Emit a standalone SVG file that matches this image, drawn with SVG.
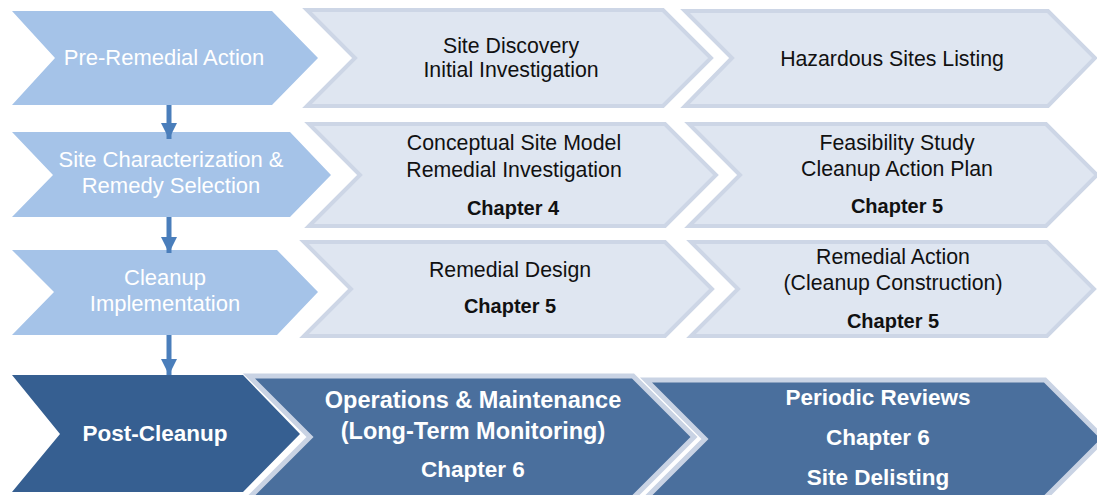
<svg xmlns="http://www.w3.org/2000/svg" width="1097" height="495" viewBox="0 0 1097 495">
<style>
.lb{fill:#a5c3e8}
.gb{fill:#dfe6f1;stroke:#cdd6e6;stroke-width:4;stroke-linejoin:miter}
.db{fill:#365f91}
.mb{fill:#4a6f9d;stroke:#c9d3e4;stroke-width:5;stroke-linejoin:miter}
text{font-family:"Liberation Sans",Arial,sans-serif;text-anchor:middle}
.w{fill:#ffffff;font-size:22px}
.k{fill:#111111;font-size:21.3px}
.kb{fill:#111111;font-size:20px;font-weight:bold}
.wb{fill:#ffffff;font-size:22.5px;font-weight:bold}
.wb2{fill:#ffffff;font-size:23.5px;font-weight:bold}
.conn{stroke:#4a7ebb;stroke-width:5;fill:none}
</style>
<defs>
<marker id="ah" markerUnits="userSpaceOnUse" markerWidth="16" markerHeight="16" refX="16" refY="8" orient="auto">
<path d="M0,0 L16,8 L0,16 Z" fill="#4a7ebb"/>
</marker>
</defs>

<g id="n-pre">
<polygon class="lb" points="12,11 272,11 318,58 272,105 12,105 55,58"/>
<text class="w" x="164" y="65">Pre-Remedial Action</text>
</g>
<g id="n-discovery">
<polygon class="gb" points="307,10 663,10 711,58 663,106 307,106 355,58"/>
<text class="k" x="511" y="53">Site Discovery</text>
<text class="k" x="511" y="77">Initial Investigation</text>
</g>
<g id="n-listing">
<polygon class="gb" points="685,11 1048,11 1095,58 1048,106 685,106 732,58"/>
<text class="k" x="892" y="66">Hazardous Sites Listing</text>
</g>

<g id="n-char">
<polygon class="lb" points="12,132 290,132 331,175 290,217 12,217 53,175"/>
<text class="w" x="171" y="167">Site Characterization &amp;</text>
<text class="w" x="171" y="193">Remedy Selection</text>
</g>
<g id="n-csm">
<polygon class="gb" points="309,124 665,124 716,175 665,226 309,226 360,175"/>
<text class="k" x="514" y="150">Conceptual Site Model</text>
<text class="k" x="514" y="177">Remedial Investigation</text>
<text class="kb" x="513" y="215">Chapter 4</text>
</g>
<g id="n-fs">
<polygon class="gb" points="689,124 1046,124 1097,175 1046,226 689,226 740,175"/>
<text class="k" x="897" y="150">Feasibility Study</text>
<text class="k" x="897" y="176">Cleanup Action Plan</text>
<text class="kb" x="897" y="213">Chapter 5</text>
</g>

<g id="n-impl">
<polygon class="lb" points="12,250 277,250 318,292 277,335 12,335 54,292"/>
<text class="w" x="165" y="285">Cleanup</text>
<text class="w" x="165" y="311">Implementation</text>
</g>
<g id="n-design">
<polygon class="gb" points="304,242 665,242 712,289 665,336 304,336 351,289"/>
<text class="k" x="510" y="277">Remedial Design</text>
<text class="kb" x="510" y="313">Chapter 5</text>
</g>
<g id="n-action">
<polygon class="gb" points="691,242 1047,242 1094,289 1047,336 691,336 738,289"/>
<text class="k" x="893" y="264">Remedial Action</text>
<text class="k" x="893" y="290">(Cleanup Construction)</text>
<text class="kb" x="893" y="328">Chapter 5</text>
</g>

<g id="n-post">
<polygon class="db" points="12,375 243,375 300,434 243,492 12,492 60,434"/>
<text class="wb" x="155" y="441">Post-Cleanup</text>
</g>
<g id="n-om">
<polygon class="mb" points="249,376 633,376 694,437 633,498 249,498 310,437"/>
<text class="wb2" x="473" y="408">Operations &amp; Maintenance</text>
<text class="wb2" x="473" y="439">(Long-Term Monitoring)</text>
<text class="wb" x="473" y="477">Chapter 6</text>
</g>
<g id="n-review">
<polygon class="mb" points="646,380 1045,380 1104,439 1045,498 646,498 705,439"/>
<text class="wb" x="878" y="405">Periodic Reviews</text>
<text class="wb" x="878" y="445">Chapter 6</text>
<text class="wb" x="878" y="485">Site Delisting</text>
</g>

<g id="connectors">
<line class="conn" x1="169" y1="105" x2="169" y2="139" marker-end="url(#ah)"/>
<line class="conn" x1="169" y1="217" x2="169" y2="253" marker-end="url(#ah)"/>
<line class="conn" x1="169" y1="335" x2="169" y2="375" marker-end="url(#ah)"/>
</g>
</svg>
